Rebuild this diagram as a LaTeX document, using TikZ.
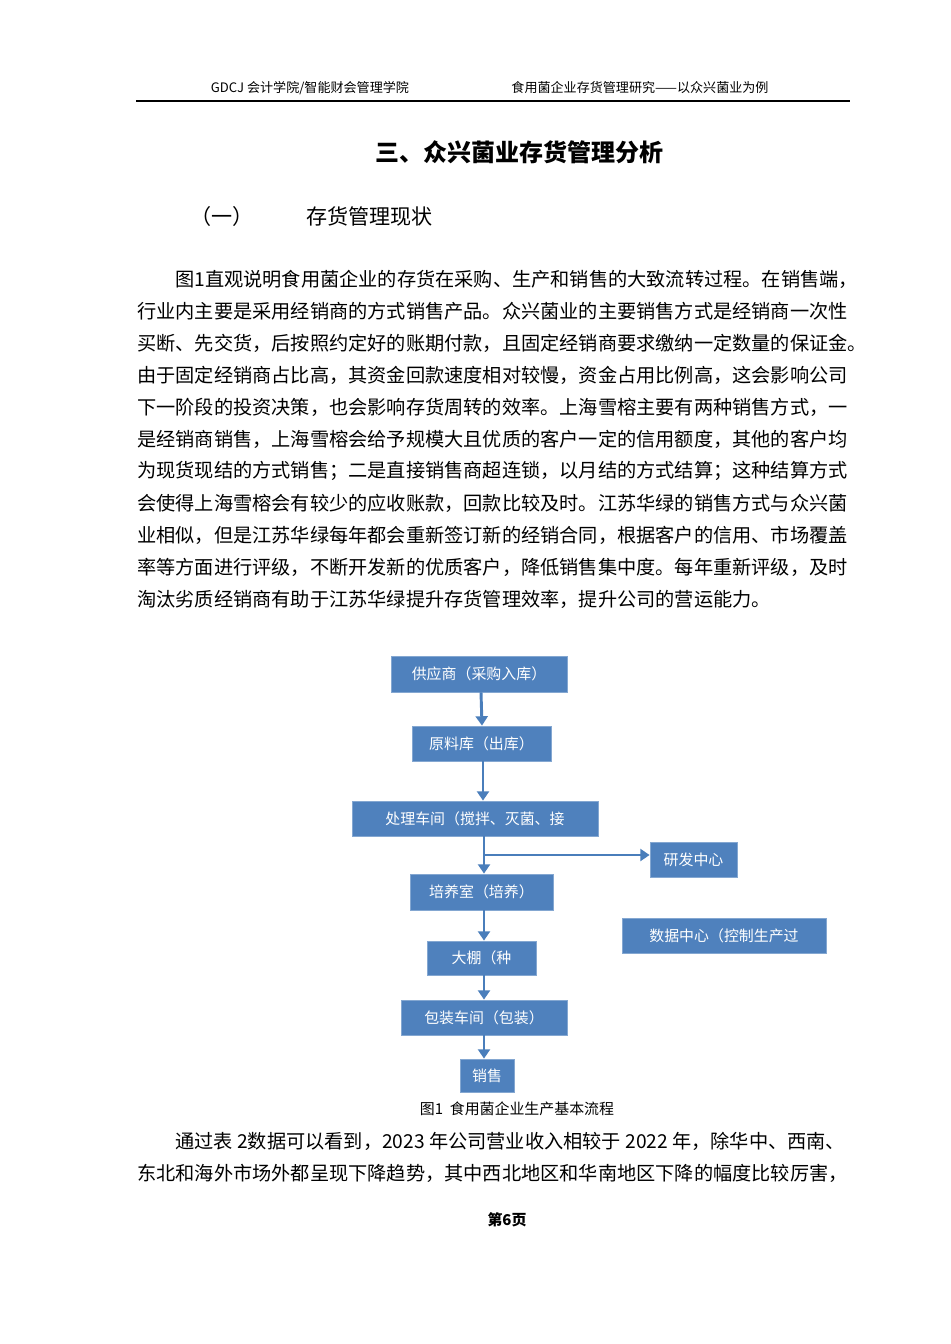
\documentclass[tikz,border=0pt]{standalone}
\usepackage{fontspec}
\setmainfont{Noto Sans CJK SC}
\usetikzlibrary{arrows.meta}
\tikzset{
  body/.style={anchor=west,inner sep=0pt,font=\fontsize{14.4pt}{16pt}\selectfont},
  fbox/.style={fill=boxblue,draw=boxblue!70!white,line width=0.6pt,text=white,inner sep=0pt,font=\fontsize{11.2pt}{13pt}\selectfont},
  flow/.style={draw=arrblue,line width=2.2pt,-{Triangle[length=7pt,width=9pt]}}
}
\definecolor{boxblue}{HTML}{4F81BD}
\definecolor{arrblue}{HTML}{4A7EBB}
\begin{document}
\begin{tikzpicture}[x=0.75pt,y=-0.75pt]
\useasboundingbox[fill=white] (0,0) rectangle (950,1344);
% header
\node[inner sep=0pt,font=\fontsize{9.8pt}{11pt}\selectfont] (h1) at (310,88) {GDCJ 会计学院/智能财会管理学院};
\node[inner sep=0pt,font=\fontsize{9.8pt}{11pt}\selectfont] (h2) at (640,88) {食用菌企业存货管理研究——以众兴菌业为例};
\draw[line width=1.5pt] (136,101) -- (850,101);
\node[inner sep=0pt,font=\fontsize{18pt}{20pt}\selectfont\bfseries] (t) at (519,152) {三、众兴菌业存货管理分析};
\node[anchor=west,inner sep=0pt,font=\fontsize{15.8pt}{18pt}\selectfont] (s1) at (190,216) {（一）};
\node[anchor=west,inner sep=0pt,font=\fontsize{15.8pt}{18pt}\selectfont] (s2) at (306,216) {存货管理现状};
% paragraph
\node[body] (p1) at (175,279) {图1直观说明食用菌企业的存货在采购、生产和销售的大致流转过程。在销售端，};
\node[body] (p2) at (137,311) {行业内主要是采用经销商的方式销售产品。众兴菌业的主要销售方式是经销商一次性};
\node[body] (p3) at (137,343) {买断、先交货，后按照约定好的账期付款，且固定经销商要求缴纳一定数量的保证金。};
\node[body] (p4) at (137,375) {由于固定经销商占比高，其资金回款速度相对较慢，资金占用比例高，这会影响公司};
\node[body] (p5) at (137,407) {下一阶段的投资决策，也会影响存货周转的效率。上海雪榕主要有两种销售方式，一};
\node[body] (p6) at (137,439) {是经销商销售，上海雪榕会给予规模大且优质的客户一定的信用额度，其他的客户均};
\node[body] (p7) at (137,471) {为现货现结的方式销售；二是直接销售商超连锁，以月结的方式结算；这种结算方式};
\node[body] (p8) at (137,503) {会使得上海雪榕会有较少的应收账款，回款比较及时。江苏华绿的销售方式与众兴菌};
\node[body] (p9) at (137,535) {业相似，但是江苏华绿每年都会重新签订新的经销合同，根据客户的信用、市场覆盖};
\node[body] (p10) at (137,567) {率等方面进行评级，不断开发新的优质客户，降低销售集中度。每年重新评级，及时};
\node[body] (p11) at (137,599) {淘汰劣质经销商有助于江苏华绿提升存货管理效率，提升公司的营运能力。};
% flowchart
\node[fbox,minimum width=132pt,minimum height=27pt] (a) at (479,674) {供应商（采购入库）};
\node[fbox,minimum width=104.25pt,minimum height=26.25pt] (b) at (481.5,743.5) {原料库（出库）};
\node[fbox,minimum width=184.5pt,minimum height=26.25pt] (c) at (475,818.5) {处理车间（搅拌、灭菌、接};
\node[fbox,minimum width=65.25pt,minimum height=26.25pt] (r) at (693.5,859.5) {研发中心};
\node[fbox,minimum width=107.25pt,minimum height=27pt] (d) at (481.5,892) {培养室（培养）};
\node[fbox,minimum width=153pt,minimum height=26.25pt] (dc) at (724,935.5) {数据中心（控制生产过};
\node[fbox,minimum width=81.75pt,minimum height=25.5pt] (e) at (481.5,958) {大棚（种};
\node[fbox,minimum width=124.5pt,minimum height=26.25pt] (f) at (484,1017.5) {包装车间（包装）};
\node[fbox,minimum width=40.5pt,minimum height=24.75pt] (g) at (487,1075.5) {销售};
\coordinate (br) at (484,855);
\draw[flow] (a.south -| 481,0) -- (b.north -| 482,0);
\draw[flow] (b.south -| 483,0) -- (c.north -| 483,0);
\draw[flow] (c.south -| 484,0) -- (d.north -| 484,0);
\draw[flow] (br) -- (r.west |- br);
\draw[flow] (d.south -| 484,0) -- (e.north -| 484,0);
\draw[flow] (e.south -| 484,0) -- (f.north -| 484,0);
\draw[flow] (f.south -| 484,0) -- (g.north -| 484,0);
\node[inner sep=0pt,font=\fontsize{11.2pt}{13pt}\selectfont] (cap) at (517,1109) {图1\ \ 食用菌企业生产基本流程};
% last paragraph
\node[body] (q1) at (175,1141) {通过表 2数据可以看到，2023 年公司营业收入相较于 2022 年，除华中、西南、};
\node[body] (q2) at (137,1173) {东北和海外市场外都呈现下降趋势，其中西北地区和华南地区下降的幅度比较厉害，};
\node[inner sep=0pt,font=\fontsize{11.2pt}{13pt}\selectfont\bfseries] (pg) at (507,1220) {第6页};
\end{tikzpicture}
\end{document}
